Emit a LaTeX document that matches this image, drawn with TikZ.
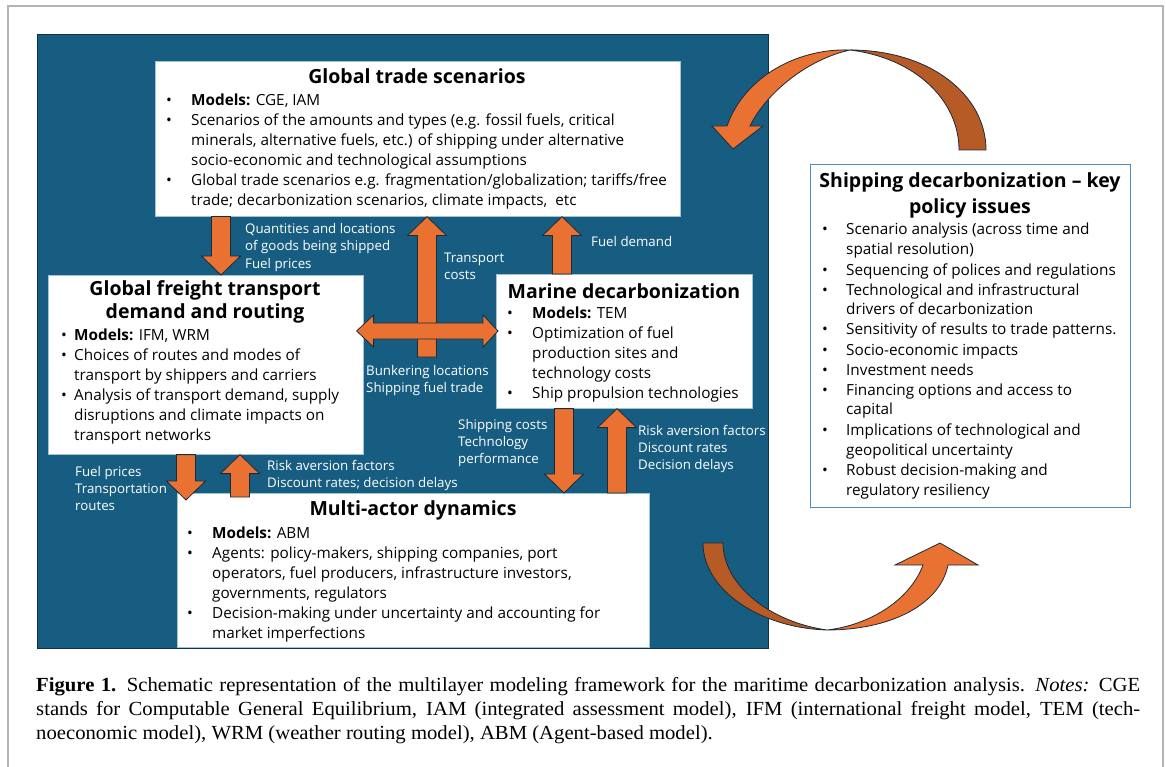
\documentclass[tikz,border=0pt]{standalone}
\usepackage{fontspec}
\usepackage{tikz}
\usetikzlibrary{calc}

\setmainfont{Open Sans}
\newfontfamily\didafont[FakeStretch=1.035]{Liberation Serif}

% righe di testo allineate a sinistra
\newcommand\righe[1]{\begin{tabular}[t]{@{}l@{}}#1\end{tabular}}
% elenco puntato: larghezza colonna del punto, righe
\newcommand\elenco[2]{\begin{tabular}[t]{@{}p{#1}@{}l@{}}#2\end{tabular}}
% freccia verticale a blocco: x, partenza, punta
\newcommand\frecciav[3]{%
  \draw[blocco] let \p1=(#2), \p2=(#3), \n1={sign(\y2-\y1)} in
    ({#1pt-9.5pt},\y1) -- ({#1pt-9.5pt},{\y2-(\n1)*19pt})
    -- ({#1pt-19.5pt},{\y2-(\n1)*19pt}) -- (#1pt,\y2)
    -- ({#1pt+19.5pt},{\y2-(\n1)*19pt}) -- ({#1pt+9.5pt},{\y2-(\n1)*19pt})
    -- ({#1pt+9.5pt},\y1) -- cycle;}

\begin{document}
\begin{tikzpicture}[x=1pt,y=-1pt,
  riquadro/.style={fill=white, draw=colBordoBox, line width=0.6pt, inner sep=0pt, anchor=north west},
  titolo/.style={font=\fontsize{19.5}{23}\selectfont\bfseries, anchor=base, inner sep=0pt},
  testo/.style={font=\fontsize{15.3}{20}\selectfont, anchor=base west, inner sep=0pt},
  etichetta/.style={font=\fontsize{13.3}{17}\selectfont, text=white, anchor=base west, inner sep=0pt},
  blocco/.style={fill=colArancio, draw=colContorno, line width=0.8pt},
  arco/.style={fill=colArancio, draw=colContorno, line width=0.8pt},
  arcoscuro/.style={fill=colArancioScuro, draw=colContorno, line width=0.8pt}]

% Colori
\definecolor{colPannello}{HTML}{175D81}
\definecolor{colBordoPannello}{HTML}{12303F}
\definecolor{colArancio}{HTML}{E97132}
\definecolor{colArancioScuro}{HTML}{B65A26}
\definecolor{colContorno}{HTML}{1A2B3A}
\definecolor{colBordoBox}{HTML}{9FC4DA}
\definecolor{colBordoPol}{HTML}{4F8CB8}
\definecolor{lineGray}{HTML}{B4B4B4}

\useasboundingbox (0,0) rectangle (1166,767);

% Cornice e pannello blu
\draw[lineGray, line width=1.2pt] (8,767) -- (8,6) -- (1163,6) -- (1163,767);
\draw[fill=colPannello, draw=colBordoPannello, line width=1pt] (37,35) rectangle (768,648);

% Frecce curve (sopra: verso il pannello, sotto: verso le politiche)
\draw[arcoscuro] (986,150) .. controls (986,95) and (930,50) .. (850,50)
  .. controls (915,58) and (959,100) .. (959,150) -- cycle;
\draw[arco] (850,50) .. controls (800,48) and (745,75) .. (727,126) -- (712,126)
  -- (733,149) -- (763,126) -- (750,126) .. controls (765,95) and (805,60) .. (850,50) -- cycle;
\draw[arcoscuro] (703,543) -- (723,543) .. controls (723,585) and (770,622) .. (827,630)
  .. controls (760,628) and (703,590) .. (703,543) -- cycle;
\draw[arco] (827,630) .. controls (870,625) and (910,600) .. (923,565) -- (895,565)
  -- (940,543) -- (978,565) -- (948,565) .. controls (940,605) and (890,630) .. (827,630) -- cycle;

% Riquadri
\node[riquadro, minimum width=525pt, minimum height=155pt] (globale) at (155,61) {};
\node[riquadro, minimum width=315pt, minimum height=179pt] (trasporto) at (48,275) {};
\node[riquadro, minimum width=256pt, minimum height=134pt] (marina) at (496,274) {};
\node[riquadro, minimum width=472pt, minimum height=154pt] (attori) at (177,493) {};
\node[riquadro, draw=colBordoPol, line width=1.2pt, minimum width=320pt, minimum height=343pt] (politiche) at (810,164) {};

% Global trade scenarios
\node[titolo] (globaleTit) at (417,84) {Global trade scenarios};
\node[testo] (globaleTxt) at (166,106) {\elenco{25pt}{%
  \textbullet & \textbf{Models:} CGE, IAM\\
  \textbullet & Scenarios of the amounts and types (e.g. fossil fuels, critical\\
   & minerals, alternative fuels, etc.) of shipping under alternative\\
   & socio-economic and technological assumptions\\
  \textbullet & Global trade scenarios e.g. fragmentation/globalization; tariffs/free\\
   & trade; decarbonization scenarios, climate impacts,\ \ etc}};

% Global freight transport
\node[titolo] (trasportoTit) at (205,295) {\begin{tabular}[t]{@{}c@{}}Global freight transport\\demand and routing\end{tabular}};
\node[testo] (trasportoTxt) at (61,340) {\elenco{13pt}{%
  \textbullet & \textbf{Models:} IFM, WRM\\
  \textbullet & Choices of routes and modes of\\
   & transport by shippers and carriers\\
  \textbullet & Analysis of transport demand, supply\\
   & disruptions and climate impacts on\\
   & transport networks}};

% Marine decarbonization
\node[titolo] (marinaTit) at (624,298) {Marine decarbonization};
\node[testo] (marinaTxt) at (507,318) {\elenco{25pt}{%
  \textbullet & \textbf{Models:} TEM\\
  \textbullet & Optimization of fuel\\
   & production sites and\\
   & technology costs\\
  \textbullet & Ship propulsion technologies}};

% Multi-actor dynamics
\node[titolo] (attoriTit) at (413,515) {Multi-actor dynamics};
\node[testo] (attoriTxt) at (187,538) {\elenco{25pt}{%
  \textbullet & \textbf{Models:} ABM\\
  \textbullet & Agents: policy-makers, shipping companies, port\\
   & operators, fuel producers, infrastructure investors,\\
   & governments, regulators\\
  \textbullet & Decision-making under uncertainty and accounting for\\
   & market imperfections}};

% Politiche
\node[titolo, font=\fontsize{19.5}{26}\selectfont\bfseries] (politicheTit) at (970,188) {\begin{tabular}[t]{@{}c@{}}Shipping decarbonization -- key\\policy issues\end{tabular}};
\node[testo] (politicheTxt) at (822,235) {\elenco{24pt}{%
  \textbullet & Scenario analysis (across time and\\
   & spatial resolution)\\
  \textbullet & Sequencing of polices and regulations\\
  \textbullet & Technological and infrastructural\\
   & drivers of decarbonization\\
  \textbullet & Sensitivity of results to trade patterns.\\
  \textbullet & Socio-economic impacts\\
  \textbullet & Investment needs\\
  \textbullet & Financing options and access to\\
   & capital\\
  \textbullet & Implications of technological and\\
   & geopolitical uncertainty\\
  \textbullet & Robust decision-making and\\
   & regulatory resiliency}};

% Frecce a blocco tra i riquadri
\coordinate (costiBase) at (427,357);
\frecciav{221}{globale.south}{trasporto.north}
\frecciav{427}{costiBase}{globale.south}
\frecciav{562}{marina.north}{globale.south}
\draw[blocco] let \p1=([xshift=-7pt]trasporto.east), \p2=([xshift=2pt]marina.west), \p3=(0,331) in
  (\x1,\y3) -- ({\x1+17pt},{\y3+16pt}) -- ({\x1+17pt},{\y3+8pt}) -- ({\x2-15pt},{\y3+8pt})
  -- ({\x2-15pt},{\y3+16pt}) -- (\x2,\y3) -- ({\x2-15pt},{\y3-16pt}) -- ({\x2-15pt},{\y3-8pt})
  -- ({\x1+17pt},{\y3-8pt}) -- ({\x1+17pt},{\y3-16pt}) -- cycle;
\frecciav{564}{marina.south}{attori.north}
\frecciav{617}{attori.north}{marina.south}
\frecciav{186}{trasporto.south}{[yshift=-7pt]attori.north}
\frecciav{240}{[yshift=-4pt]attori.north}{trasporto.south}

% Etichette sulle frecce
\node[etichetta] (lblQuantita) at (245,234) {\righe{Quantities and locations\\of goods being shipped\\Fuel prices}};
\node[etichetta] (lblCostiTr) at (444,262) {\righe{Transport\\costs}};
\node[etichetta] (lblDomanda) at (591,247) {Fuel demand};
\node[etichetta] (lblBunker) at (366,375) {\righe{Bunkering locations\\Shipping fuel trade}};
\node[etichetta] (lblCostiSp) at (458,429) {\righe{Shipping costs\\Technology\\performance}};
\node[etichetta] (lblRischioDx) at (638,435) {\righe{Risk aversion factors\\Discount rates\\Decision delays}};
\node[etichetta] (lblPrezzi) at (75,476) {\righe{Fuel prices\\Transportation\\routes}};
\node[etichetta] (lblRischioSx) at (267,470) {\righe{Risk aversion factors\\Discount rates; decision delays}};

% Didascalia
\node[anchor=north west, inner sep=0pt, text width=1104pt, align=justify,
  font=\didafont\fontsize{20}{24}\selectfont] (didascalia) at (36,677)
  {\textbf{Figure 1.} Schematic representation of the multilayer modeling framework for the maritime decarbonization analysis. \textit{Notes:} CGE\linebreak stands for Computable General Equilibrium, IAM (integrated assessment model), IFM (international freight model, TEM (tech-\linebreak noeconomic model), WRM (weather routing model), ABM (Agent-based model).};

\end{tikzpicture}
\end{document}
